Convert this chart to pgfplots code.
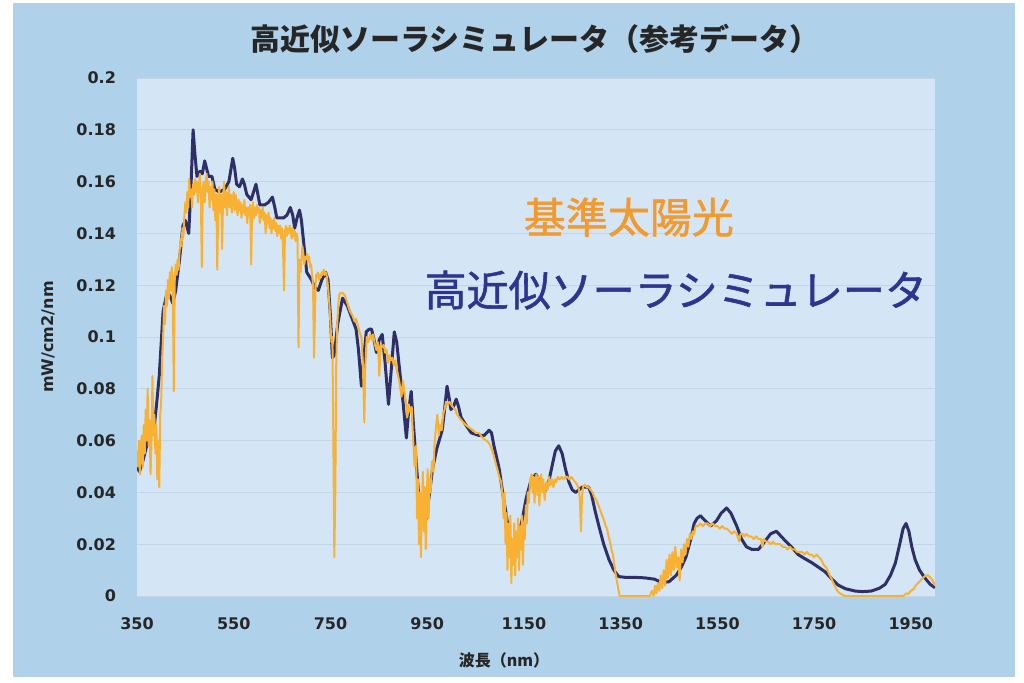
\documentclass[border=0pt]{standalone}
\usepackage{fontspec}
\usepackage{pgfplots}
\pgfplotsset{compat=1.18}
\newfontfamily\jp{Noto Sans CJK JP}
\newfontface\jpmed{Noto Sans CJK JP}[FakeBold=1.3]
\newfontfamily\dv{DejaVu Sans}
\definecolor{outerbg}{HTML}{B0D1EA}
\definecolor{innerbg}{HTML}{D4E6F5}
\definecolor{gridc}{HTML}{C3D6E8}
\definecolor{simc}{HTML}{2D2F66}
\definecolor{sunc}{HTML}{F8B133}
\definecolor{suntxt}{HTML}{F39A2E}
\definecolor{simtxt}{HTML}{2E3590}
\begin{document}
\begin{tikzpicture}
\fill[white] (0pt,0pt) rectangle (512pt,341pt);
\fill[outerbg] (6.5pt,2.5pt) rectangle (507.5pt,339.5pt);
\begin{axis}[
  at={(68.5pt,43pt)}, anchor=south west,
  scale only axis, width=399pt, height=259pt,
  xmin=350, xmax=2000, ymin=0, ymax=0.2,
  xtick={350,550,750,950,1150,1350,1550,1750,1950},
  ytick={0,0.02,0.04,0.06,0.08,0.1,0.12,0.14,0.16,0.18,0.2},
  scaled y ticks=false,
  xticklabel style={/pgf/number format/1000 sep={}, yshift=-7.5pt},
  yticklabel style={/pgf/number format/fixed,/pgf/number format/precision=2, xshift=-7pt},
  /pgf/number format/assume math mode=true,
  ticklabel style={font=\dv\bfseries\fontsize{8}{9}\selectfont, text=black!85},
  axis line style={draw=none},
  major tick length=0pt,
  ymajorgrids, major grid style={draw=gridc, line width=0.5pt},
  axis background/.style={fill=innerbg},
  title={\jp\bfseries\fontsize{15}{17}\selectfont 高近似ソーラシミュレータ（参考データ）},
  title style={at={(axis description cs:0.4987,1.052)}, anchor=center, text=black!85},
  xlabel={\jp\bfseries\fontsize{8}{9}\selectfont 波長（nm）},
  xlabel style={at={(axis description cs:0.46,-0.1236)}, anchor=center, text=black!85},
  ylabel={\dv\bfseries\fontsize{8}{9}\selectfont mW/cm2/nm},
  ylabel style={at={(axis description cs:-0.1115,0.5)}, anchor=center, text=black!85},
  clip=true,
]
\addplot[simc, line width=1.5pt, line join=round] coordinates {
(350,0.050)(355,0.048)(362,0.052)(370,0.058)(377,0.063)(385,0.064)(391,0.075)(396,0.085)
(404,0.110)(412,0.117)(418,0.116)(424,0.113)(430,0.118)(438,0.130)(445,0.143)(450,0.145)
(457,0.140)(462,0.160)(466,0.180)(470,0.170)(474,0.162)(480,0.164)(485,0.163)(490,0.168)
(494,0.165)(498,0.162)(505,0.162)(511,0.157)(520,0.156)(531,0.157)(540,0.160)(548,0.169)
(552,0.165)(556,0.159)(562,0.158)(568,0.161)(572,0.159)(577,0.155)(586,0.153)(596,0.159)
(600,0.155)(604,0.151)(614,0.151)(622,0.152)(630,0.154)(635,0.150)(639,0.146)(653,0.146)
(660,0.147)(667,0.150)(672,0.147)(676,0.142)(681,0.146)(686,0.149)(690,0.145)(696,0.134)
(701,0.125)(711,0.122)(718,0.119)(725,0.118)(732,0.122)(740,0.125)(745,0.122)(750,0.108)
(754,0.092)(758,0.093)(765,0.105)(775,0.115)(785,0.112)(793,0.108)(803,0.103)(808,0.095)
(814,0.081)(819,0.092)(824,0.102)(830,0.103)(835,0.103)(840,0.099)(845,0.094)(851,0.099)
(857,0.101)(863,0.090)(870,0.074)(876,0.088)(882,0.102)(887,0.098)(892,0.089)(900,0.075)
(907,0.061)(912,0.072)(917,0.079)(922,0.065)(930,0.045)(936,0.030)(942,0.027)(948,0.030)
(955,0.040)(961,0.049)(970,0.057)(981,0.064)(986,0.072)(991,0.081)(995,0.077)(999,0.072)
(1004,0.073)(1010,0.076)(1015,0.073)(1020,0.069)(1030,0.066)(1041,0.063)(1057,0.062)
(1068,0.062)(1078,0.064)(1083,0.063)(1088,0.058)(1093,0.054)(1099,0.049)(1106,0.040)
(1113,0.032)(1120,0.023)(1126,0.019)(1135,0.021)(1146,0.029)(1155,0.038)(1165,0.045)
(1175,0.047)(1183,0.044)(1192,0.040)(1200,0.043)(1208,0.050)(1215,0.056)(1222,0.058)
(1229,0.055)(1236,0.049)(1243,0.044)(1250,0.041)(1257,0.040)(1264,0.041)(1270,0.042)
(1278,0.042)(1284,0.042)(1290,0.039)(1297,0.033)(1305,0.027)(1315,0.020)(1326,0.014)
(1336,0.010)(1346,0.0075)(1360,0.0072)(1380,0.0072)(1400,0.0070)(1420,0.0065)(1435,0.0052)
(1450,0.0055)(1465,0.0080)(1475,0.011)(1485,0.015)(1495,0.022)(1502,0.028)(1508,0.030)
(1515,0.031)(1525,0.029)(1536,0.027)(1548,0.029)(1558,0.032)(1569,0.034)(1578,0.032)
(1590,0.027)(1600,0.022)(1610,0.019)(1621,0.018)(1635,0.018)(1648,0.021)(1660,0.024)
(1672,0.025)(1682,0.023)(1692,0.021)(1703,0.019)(1717,0.016)(1730,0.0145)(1744,0.013)
(1760,0.011)(1773,0.0093)(1787,0.0065)(1800,0.0042)(1815,0.0028)(1835,0.0019)(1850,0.0017)
(1868,0.0019)(1885,0.003)(1897,0.0045)(1908,0.008)(1918,0.0127)(1927,0.020)(1934,0.026)
(1940,0.028)(1946,0.025)(1952,0.019)(1959,0.014)(1968,0.010)(1979,0.007)(1990,0.0045)
(2000,0.0032)
};
\addplot[sunc, line width=1pt, line join=round] coordinates {
(350,0.056)(352,0.050)(354,0.060)(356,0.047)(358,0.058)(360,0.062)(362,0.050)(364,0.066)
(366,0.055)(368,0.072)(370,0.060)(372,0.080)(374,0.058)(376,0.068)(378,0.047)(380,0.060)
(382,0.085)(384,0.062)(386,0.070)(388,0.055)(390,0.066)(392,0.045)(394,0.060)(396,0.042)
(398,0.070)(400,0.075)(402,0.092)(404,0.100)(406,0.112)(408,0.105)(410,0.118)(412,0.112)
(414,0.122)(416,0.115)(418,0.125)(420,0.118)(422,0.127)(424,0.120)(426,0.079)(428,0.122)
(430,0.128)(432,0.124)(434,0.130)(436,0.126)(438,0.133)(440,0.138)(442,0.135)(444,0.142)
(446,0.139)(448,0.147)(450,0.152)(452,0.148)(454,0.156)(456,0.150)(458,0.161)(460,0.154)
(462,0.157)(464,0.150)(466,0.159)(468,0.155)(470,0.161)(472,0.156)(474,0.160)(476,0.152)
(478,0.158)(480,0.163)(482,0.155)(484,0.127)(486,0.157)(488,0.160)(490,0.152)(492,0.159)
(494,0.163)(496,0.156)(498,0.160)(500,0.150)(502,0.158)(504,0.153)(506,0.160)(508,0.149)
(510,0.157)(512,0.145)(514,0.155)(516,0.126)(518,0.152)(520,0.158)(522,0.148)(524,0.155)
(526,0.134)(528,0.154)(530,0.160)(532,0.150)(534,0.156)(536,0.147)(538,0.153)(540,0.158)
(542,0.150)(544,0.155)(546,0.148)(548,0.153)(550,0.156)(552,0.149)(554,0.155)(556,0.151)
(558,0.147)(560,0.153)(562,0.149)(564,0.152)(566,0.146)(568,0.151)(570,0.148)(572,0.153)
(574,0.147)(576,0.150)(578,0.144)(580,0.150)(582,0.147)(584,0.151)(586,0.128)(588,0.149)
(590,0.152)(592,0.146)(594,0.150)(596,0.147)(598,0.151)(600,0.148)(602,0.150)(604,0.144)
(606,0.149)(608,0.146)(610,0.150)(612,0.145)(614,0.148)(616,0.140)(618,0.147)(620,0.144)
(622,0.148)(624,0.142)(626,0.146)(628,0.140)(630,0.145)(632,0.142)(634,0.146)(636,0.141)
(638,0.144)(640,0.139)(642,0.143)(644,0.140)(646,0.143)(648,0.138)(650,0.142)(652,0.134)
(654,0.118)(656,0.141)(658,0.143)(660,0.139)(662,0.142)(664,0.140)(666,0.143)(668,0.141)
(670,0.138)(672,0.142)(674,0.139)(676,0.141)(678,0.137)(680,0.140)(682,0.138)(684,0.096)
(686,0.130)(688,0.125)(690,0.130)(692,0.135)(694,0.132)(696,0.128)(698,0.131)(700,0.130)
(702,0.132)(704,0.129)(706,0.131)(708,0.127)(710,0.128)(712,0.124)(714,0.120)(716,0.092)
(718,0.110)(720,0.124)(722,0.123)(724,0.125)(726,0.122)(728,0.124)(730,0.123)(732,0.125)
(734,0.124)(736,0.126)(738,0.124)(740,0.125)(742,0.124)(744,0.121)(746,0.117)(748,0.112)
(750,0.105)(752,0.098)(754,0.100)(756,0.060)(758,0.015)(760,0.040)(762,0.090)(764,0.105)
(766,0.112)(768,0.116)(770,0.117)(775,0.117)(780,0.116)(785,0.113)(790,0.110)(793,0.109)
(796,0.108)(800,0.106)(803,0.107)(806,0.105)(810,0.102)(814,0.100)(817,0.090)(820,0.067)
(822,0.088)(825,0.100)(828,0.098)(832,0.101)(835,0.099)(838,0.101)(842,0.097)(845,0.095)
(848,0.098)(851,0.085)(854,0.097)(857,0.096)(860,0.097)(863,0.094)(866,0.095)(869,0.090)
(872,0.093)(875,0.091)(878,0.092)(881,0.089)(884,0.091)(887,0.087)(890,0.085)(893,0.082)
(897,0.077)(900,0.083)(903,0.079)(906,0.075)(909,0.069)(912,0.074)(915,0.071)(918,0.073)
(921,0.060)(924,0.050)(927,0.058)(929,0.030)(931,0.045)(933,0.020)(935,0.040)(937,0.015)
(939,0.035)(941,0.048)(943,0.025)(945,0.042)(947,0.018)(949,0.038)(951,0.049)(953,0.030)
(955,0.045)(957,0.040)(960,0.052)(963,0.048)(965,0.058)(968,0.065)(971,0.070)(974,0.062)
(977,0.066)(980,0.064)(983,0.070)(986,0.072)(989,0.075)(992,0.074)(996,0.075)(999,0.074)
(1003,0.073)(1008,0.072)(1012,0.070)(1016,0.069)(1020,0.068)(1025,0.067)(1030,0.066)
(1037,0.065)(1045,0.064)(1050,0.063)(1057,0.063)(1065,0.061)(1072,0.060)(1078,0.059)
(1083,0.057)(1088,0.054)(1092,0.051)(1095,0.049)(1099,0.046)(1103,0.044)(1106,0.038)
(1108,0.030)(1110,0.040)(1112,0.020)(1114,0.032)(1116,0.010)(1118,0.028)(1120,0.015)
(1122,0.031)(1124,0.005)(1126,0.022)(1128,0.012)(1130,0.028)(1132,0.008)(1134,0.025)
(1136,0.015)(1138,0.030)(1140,0.010)(1142,0.027)(1144,0.018)(1146,0.031)(1148,0.012)
(1150,0.028)(1152,0.022)(1154,0.035)(1156,0.028)(1158,0.040)(1160,0.036)(1163,0.045)
(1166,0.047)(1168,0.040)(1170,0.046)(1172,0.036)(1174,0.045)(1176,0.047)(1178,0.039)
(1180,0.046)(1182,0.035)(1184,0.044)(1186,0.047)(1188,0.040)(1190,0.045)(1193,0.037)
(1196,0.044)(1199,0.041)(1202,0.046)(1205,0.043)(1208,0.045)(1211,0.042)(1214,0.045)
(1217,0.044)(1220,0.046)(1224,0.045)(1228,0.046)(1232,0.045)(1236,0.046)(1240,0.046)
(1244,0.045)(1248,0.046)(1252,0.045)(1256,0.044)(1260,0.043)(1264,0.041)(1266,0.036)
(1268,0.025)(1270,0.038)(1272,0.042)(1276,0.043)(1280,0.042)(1284,0.042)(1288,0.041)
(1292,0.040)(1296,0.038)(1300,0.037)(1304,0.035)(1308,0.033)(1312,0.031)(1316,0.029)
(1319,0.027)(1322,0.026)(1325,0.023)(1328,0.021)(1331,0.018)(1334,0.016)(1337,0.012)
(1340,0.008)(1343,0.005)(1346,0.002)(1348,0.000)(1410,0.000)(1415,0.002)(1418,0.000)
(1421,0.004)(1424,0.001)(1427,0.005)(1430,0.002)(1433,0.008)(1436,0.003)(1439,0.010)
(1442,0.004)(1445,0.014)(1448,0.007)(1451,0.016)(1454,0.008)(1457,0.017)(1460,0.010)
(1463,0.019)(1466,0.011)(1469,0.015)(1472,0.006)(1475,0.018)(1478,0.013)(1481,0.020)
(1484,0.016)(1487,0.022)(1490,0.019)(1493,0.024)(1496,0.022)(1499,0.025)(1502,0.024)
(1505,0.027)(1510,0.027)(1515,0.028)(1520,0.027)(1525,0.028)(1530,0.028)(1535,0.027)
(1540,0.028)(1545,0.027)(1550,0.027)(1555,0.026)(1560,0.027)(1565,0.026)(1570,0.026)
(1575,0.025)(1580,0.024)(1585,0.025)(1590,0.024)(1595,0.021)(1598,0.024)(1602,0.024)
(1606,0.023)(1610,0.024)(1615,0.023)(1620,0.023)(1625,0.022)(1630,0.023)(1635,0.022)
(1640,0.022)(1643,0.019)(1646,0.022)(1650,0.021)(1655,0.021)(1660,0.020)(1665,0.021)
(1670,0.020)(1675,0.020)(1680,0.020)(1685,0.019)(1690,0.019)(1695,0.018)(1700,0.019)
(1705,0.018)(1710,0.018)(1715,0.017)(1720,0.017)(1725,0.017)(1730,0.016)(1735,0.017)
(1740,0.016)(1745,0.016)(1750,0.015)(1755,0.016)(1760,0.015)(1765,0.014)(1770,0.012)
(1775,0.011)(1780,0.009)(1785,0.007)(1790,0.005)(1795,0.003)(1800,0.0015)(1810,0.0003)
(1815,0.000)(1935,0.000)(1940,0.001)(1945,0.0008)(1950,0.002)(1955,0.0025)(1960,0.004)
(1965,0.005)(1970,0.006)(1975,0.007)(1980,0.0078)(1985,0.0080)(1990,0.0072)(1995,0.0060)
(2000,0.004)
};
\node[text=suntxt, font=\jpmed\fontsize{21}{24}\selectfont] at (axis cs:1367,0.1463) {基準太陽光};
\node[text=simtxt, font=\jpmed\fontsize{21}{24}\selectfont] at (axis cs:1464,0.1181) {高近似ソーラシミュレータ};
\end{axis}
\end{tikzpicture}
\end{document}
